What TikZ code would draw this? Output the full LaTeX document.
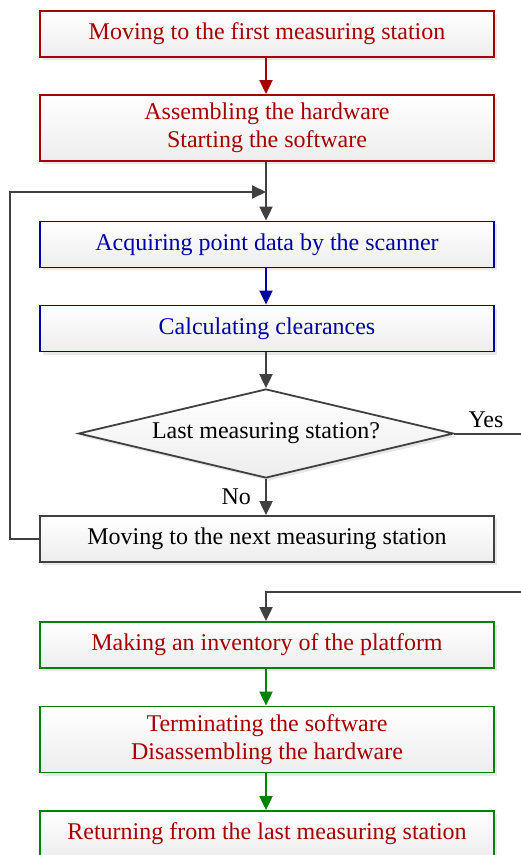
\documentclass[tikz,border=0pt]{standalone}
\usepackage{fontspec}
\setmainfont{Liberation Serif}
\usetikzlibrary{shapes.geometric,arrows.meta,shadows}
\definecolor{dred}{RGB}{165,0,0}
\definecolor{dblue}{RGB}{0,0,165}
\definecolor{dgreen}{RGB}{0,130,0}
\definecolor{dgray}{RGB}{64,64,64}
\begin{document}
\begin{tikzpicture}[x=0.5pt,y=-0.5pt,
  box/.style={rectangle, draw, line width=0.9pt, minimum width=227pt, minimum height=23pt,
    inner sep=0pt, align=center, top color=white, bottom color=gray!14,
    drop shadow={shadow xshift=1.5pt,shadow yshift=-1.5pt,fill=gray!35},
    font=\fontsize{12}{14}\selectfont},
  tall/.style={minimum height=33pt},
  redbox/.style={box, draw=dred, text=dred},
  bluebox/.style={box, draw=dblue, text=dblue},
  graybox/.style={box, draw=dgray, text=black},
  greenbox/.style={box, draw=dgreen, text=dred},
  decision/.style={diamond, draw=dgray, line width=0.9pt, minimum width=187.5pt, minimum height=44.5pt,
    inner sep=0pt, aspect=4.2, top color=white, bottom color=gray!14,
    drop shadow={shadow xshift=1.5pt,shadow yshift=-1.5pt,fill=gray!35},
    font=\fontsize{12}{14}\selectfont},
  conn/.style={line width=1pt, -{Triangle[length=7pt,width=6.5pt]}},
  plainline/.style={line width=1pt},
  lbl/.style={font=\fontsize{12}{14}\selectfont, inner sep=0pt, text=black}
]
\useasboundingbox (0,0) rectangle (520,855);

\node[redbox] (b1) at (267,34) {Moving to the first measuring station};
\node[redbox, tall] (b2) at (267,128) {Assembling the hardware\\Starting the software};
\node[bluebox] (b3) at (267,244.5) {Acquiring point data by the scanner};
\node[bluebox] (b4) at (267,328.5) {Calculating clearances};
\node[decision] (d) at (266,433.5) {Last measuring station?};
\node[graybox] (b5) at (267,539) {Moving to the next measuring station};
\node[greenbox] (b6) at (267,645) {Making an inventory of the platform};
\node[greenbox, tall] (b7) at (267,739.5) {Terminating the software\\Disassembling the hardware};
\node[greenbox] (b8) at (267,834) {Returning from the last measuring station};

\coordinate (m) at (266,192);
\coordinate (lc) at (10,539);
\coordinate (ye) at (521,433.5);
\coordinate (re) at (521,592);

\draw[conn, dred] (b1.south -| m) -- (b2.north -| m);
\draw[conn, dgray] (b2.south -| m) -- (b3.north -| m);
\draw[conn, dgray] (b5.west) -- (lc) |- (m);
\draw[conn, dblue] (b3.south -| m) -- (b4.north -| m);
\draw[conn, dgray] (b4.south -| m) -- (d.north);
\draw[conn, dgray] (d.south) -- (b5.north -| m)
  node[lbl, midway, left=7pt] (no) {No};
\draw[plainline, dgray] (d.east) -- (ye);
\node[lbl] (yes) at (486,420) {Yes};
\draw[conn, dgray] (re) -| (b6.north -| m);
\draw[conn, dgreen] (b6.south -| m) -- (b7.north -| m);
\draw[conn, dgreen] (b7.south -| m) -- (b8.north -| m);
\end{tikzpicture}
\end{document}
